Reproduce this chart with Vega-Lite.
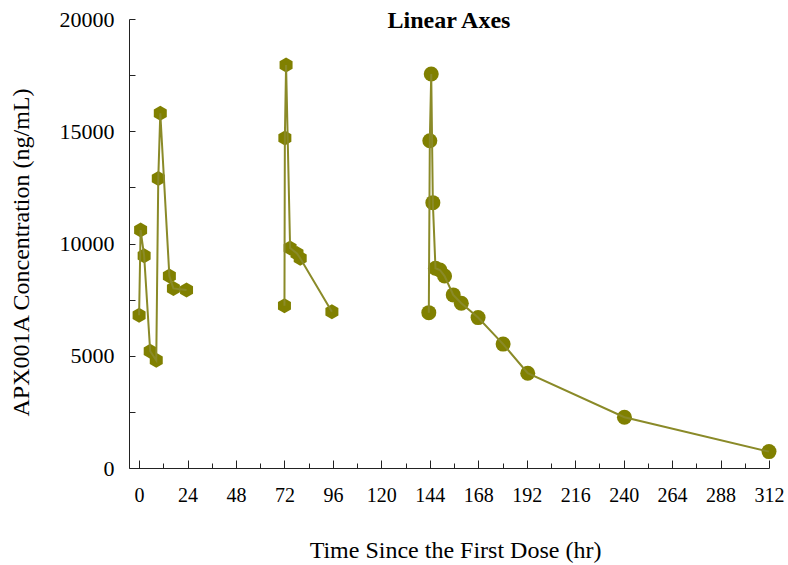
{
  "$schema": "https://vega.github.io/schema/vega-lite/v6.json",
  "width": 640,
  "height": 449,
  "autosize": "none",
  "padding": {"left": 129, "top": 19, "right": 19, "bottom": 97},
  "background": "white",
  "config": {"view": {"stroke": null}, "font": "Liberation Serif"},
  "title": {"text": "Linear Axes", "font": "Liberation Serif", "fontSize": 24, "fontWeight": "bold", "color": "black", "anchor": "middle", "frame": "group", "baseline": "alphabetic", "offset": -44},
  "data": {"values": [
    {"dose": "1", "time": 0, "conc": 6800},
    {"dose": "1", "time": 0.75, "conc": 10600},
    {"dose": "1", "time": 2.5, "conc": 9450},
    {"dose": "1", "time": 5.5, "conc": 5200},
    {"dose": "1", "time": 8.5, "conc": 4800},
    {"dose": "1", "time": 9.5, "conc": 12900},
    {"dose": "1", "time": 10.5, "conc": 15800},
    {"dose": "1", "time": 15, "conc": 8550},
    {"dose": "1", "time": 17, "conc": 8000},
    {"dose": "1", "time": 23.5, "conc": 7930},
    {"dose": "2", "time": 72, "conc": 7230},
    {"dose": "2", "time": 72.2, "conc": 14700},
    {"dose": "2", "time": 72.8, "conc": 17950},
    {"dose": "2", "time": 74.8, "conc": 9800},
    {"dose": "2", "time": 78.2, "conc": 9560},
    {"dose": "2", "time": 79.8, "conc": 9340},
    {"dose": "2", "time": 95.5, "conc": 6960},
    {"dose": "3", "time": 143.5, "conc": 6920},
    {"dose": "3", "time": 144, "conc": 14580},
    {"dose": "3", "time": 144.7, "conc": 17550},
    {"dose": "3", "time": 145.5, "conc": 11820},
    {"dose": "3", "time": 146.8, "conc": 8900},
    {"dose": "3", "time": 149, "conc": 8820},
    {"dose": "3", "time": 151.3, "conc": 8550},
    {"dose": "3", "time": 155.6, "conc": 7710},
    {"dose": "3", "time": 159.6, "conc": 7340},
    {"dose": "3", "time": 167.9, "conc": 6700},
    {"dose": "3", "time": 180.3, "conc": 5520},
    {"dose": "3", "time": 192.5, "conc": 4220},
    {"dose": "3", "time": 240.4, "conc": 2260},
    {"dose": "3", "time": 312, "conc": 730}
  ]},
  "encoding": {
    "x": {
      "field": "time", "type": "quantitative",
      "scale": {"domain": [-5, 312], "nice": false, "zero": false},
      "axis": {
        "values": [0,12,24,36,48,60,72,84,96,108,120,132,144,156,168,180,192,204,216,228,240,252,264,276,288,300,312],
        "labelExpr": "datum.value % 24 === 0 ? datum.label : ''",
        "tickSize": {"condition": {"test": "datum.value % 24 === 0", "value": -8}, "value": -5},
        "labelPadding": 25,
        "labelFont": "Liberation Serif", "labelFontSize": 20, "labelColor": "black",
        "labelOverlap": false, "labelFlush": false, "labelBound": false,
        "grid": false,
        "domainColor": "#222", "tickColor": "#222", "domainWidth": 1, "tickWidth": 1,
        "title": "Time Since the First Dose (hr)",
        "titleFont": "Liberation Serif", "titleFontSize": 24, "titleFontWeight": "normal", "titleColor": "black",
        "titleBaseline": "alphabetic", "titleY": 89, "titleX": 326
      }
    },
    "y": {
      "field": "conc", "type": "quantitative",
      "scale": {"domain": [0, 20000], "nice": false},
      "axis": {
        "values": [0,2500,5000,7500,10000,12500,15000,17500,20000],
        "labelExpr": "datum.value % 5000 === 0 ? datum.value : ''",
        "tickSize": -6,
        "labelPadding": 21,
        "labelFont": "Liberation Serif", "labelFontSize": 22, "labelColor": "black",
        "labelOverlap": false, "labelFlush": false, "labelBound": false,
        "grid": false,
        "domainColor": "#222", "tickColor": "#222", "domainWidth": 1, "tickWidth": 1,
        "title": "APX001A Concentration (ng/mL)",
        "titleFont": "Liberation Serif", "titleFontSize": 24, "titleFontWeight": "normal", "titleColor": "black",
        "titleX": -96, "titleY": 233
      }
    }
  },
  "layer": [
    {
      "mark": {"type": "point", "filled": true, "opacity": 1, "color": "#808000"},
      "encoding": {
        "shape": {"field": "dose", "type": "nominal", "scale": {"domain": ["1","2","3"], "range": ["M0,-1L0.866,-0.5L0.866,0.5L0,1L-0.866,0.5L-0.866,-0.5Z", "M0,-1L0.866,-0.5L0.866,0.5L0,1L-0.866,0.5L-0.866,-0.5Z", "circle"]}, "legend": null},
        "size": {"field": "dose", "type": "ordinal", "scale": {"domain": ["1","2","3"], "range": [225, 225, 190]}, "legend": null}
      }
    },
    {
      "mark": {"type": "line", "color": "#8a8a28", "strokeWidth": 2},
      "encoding": {"detail": {"field": "dose", "type": "nominal"}}
    }
  ]
}
